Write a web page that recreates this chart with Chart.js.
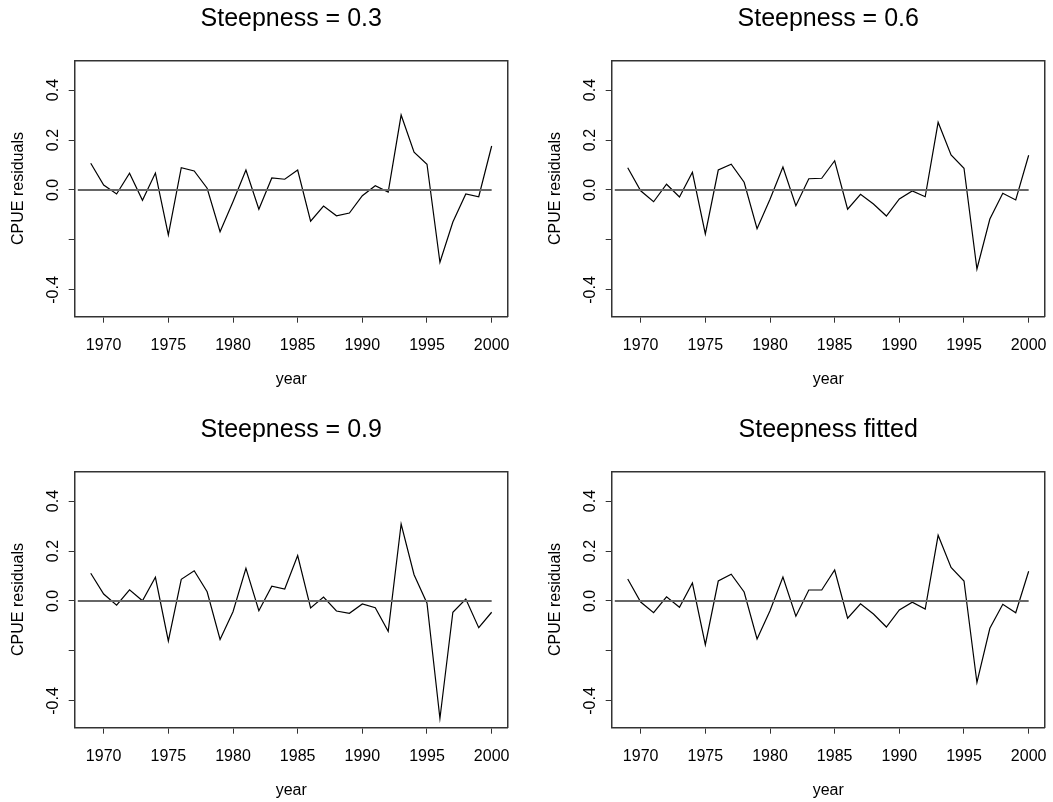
<!DOCTYPE html>
<html>
<head>
<meta charset="utf-8">
<title>CPUE residuals</title>
<script src="https://cdn.jsdelivr.net/npm/chart.js@4.4.1/dist/chart.umd.min.js"></script>
<style>
    html, body { margin: 0; padding: 0; background: #fff; overflow: hidden; }
    canvas { position: absolute; }
</style>
</head>
<body>
<canvas id="steep03" width="516" height="390" style="left:0px;top:0px"></canvas>
<canvas id="steep06" width="516" height="390" style="left:537px;top:0px"></canvas>
<canvas id="steep09" width="516" height="390" style="left:0px;top:411.4px"></canvas>
<canvas id="steepFit" width="516" height="390" style="left:537px;top:411.4px"></canvas>
<script>
const years = [1969, 1970, 1971, 1972, 1973, 1974, 1975, 1976, 1977, 1978, 1979, 1980,
    1981, 1982, 1983, 1984, 1985, 1986, 1987, 1988, 1989, 1990, 1991, 1992,
    1993, 1994, 1995, 1996, 1997, 1998, 1999, 2000]

const resid03 = [0.107, 0.020, -0.016, 0.067, -0.041, 0.068, -0.180, 0.089, 0.076, 0.007, -0.167, -0.047,
    0.080, -0.077, 0.048, 0.043, 0.080, -0.125, -0.064, -0.103, -0.092, -0.023, 0.017, -0.008,
    0.300, 0.151, 0.103, -0.289, -0.128, -0.016, -0.027, 0.176]

const resid06 = [0.089, -0.003, -0.047, 0.023, -0.028, 0.071, -0.176, 0.080, 0.103, 0.031, -0.155, -0.037,
    0.092, -0.063, 0.045, 0.047, 0.117, -0.077, -0.017, -0.056, -0.104, -0.036, -0.004, -0.027,
    0.271, 0.140, 0.087, -0.316, -0.116, -0.013, -0.040, 0.139]

const resid09 = [0.111, 0.028, -0.017, 0.045, 0.001, 0.095, -0.160, 0.087, 0.121, 0.037, -0.154, -0.043,
    0.131, -0.039, 0.059, 0.048, 0.182, -0.028, 0.016, -0.040, -0.049, -0.012, -0.027, -0.121,
    0.308, 0.105, -0.009, -0.470, -0.045, 0.008, -0.107, -0.045]

const residFit = [0.088, -0.004, -0.047, 0.017, -0.025, 0.072, -0.175, 0.080, 0.107, 0.036, -0.152, -0.039,
    0.096, -0.061, 0.044, 0.044, 0.124, -0.069, -0.011, -0.052, -0.104, -0.036, -0.005, -0.032,
    0.263, 0.134, 0.080, -0.326, -0.109, -0.013, -0.047, 0.119]

const xTicks = [1970, 1975, 1980, 1985, 1990, 1995, 2000]
const yTicks = [-0.4, -0.2, 0, 0.2, 0.4]
const yTickLabels = ['-0.4', '', '0.0', '0.2', '0.4']
const zeroLineYears = [1968, 2000]

Chart.defaults.font.family = "'Liberation Sans', Arial, Helvetica, sans-serif"
Chart.defaults.color = '#000'

const boxColor = '#333'

// keep tick labels from pushing the plot box inward
function noEdgePadding(scale) {
    scale.paddingLeft = 0
    scale.paddingRight = 0
    scale.paddingTop = 0
    scale.paddingBottom = 0
}

function frameAxis(position) {
    return {
        type: 'linear',
        position: position,
        min: 0,
        max: 1,
        ticks: { display: false },
        grid: { display: false },
        border: { display: true, color: boxColor, width: 1.5 },
        afterFit: (scale) => {
            if (position == 'top') scale.height = 0
            else scale.width = 0
            noEdgePadding(scale)
        }
    }
}

function buildResidualChart(id, title, values) {

    let points = years.map((yr, i) => {
        return { x: yr, y: values[i] }
    })

    let zeroLine = zeroLineYears.map(yr => ({ x: yr, y: 0 }))

    const config = {
        type: 'line',
        data: {
            datasets: [
                {
                    data: zeroLine,
                    borderColor: '#666',
                    borderWidth: 2,
                    pointRadius: 0
                },
                {
                    data: points,
                    borderColor: '#000',
                    borderWidth: 1.2,
                    pointRadius: 0,
                    tension: 0
                }
            ]
        },
        options: {
            responsive: false,
            animation: false,
            events: [],
            layout: {
                padding: { left: 0, top: 0, right: 8.3, bottom: 0 }
            },
            plugins: {
                legend: { display: false },
                tooltip: { enabled: false },
                title: {
                    display: true,
                    text: title,
                    fullSize: false,
                    color: '#000',
                    font: { size: 25, weight: 'normal' },
                    padding: { top: 4, bottom: 26.3 }
                }
            },
            scales: {
                x: {
                    type: 'linear',
                    position: 'bottom',
                    min: 1967.76,
                    max: 2001.24,
                    bounds: 'data',
                    afterBuildTicks: (scale) => {
                        scale.ticks = xTicks.map(v => ({ value: v }))
                    },
                    afterFit: (scale) => {
                        scale.height = 73.3
                        noEdgePadding(scale)
                    },
                    ticks: {
                        autoSkip: false,
                        maxRotation: 0,
                        padding: 13.5,
                        font: { size: 16 },
                        callback: (v) => String(v)
                    },
                    grid: {
                        drawOnChartArea: false,
                        tickLength: 6,
                        tickColor: boxColor,
                        tickWidth: 1
                    },
                    border: { display: true, color: boxColor, width: 1.5 },
                    title: {
                        display: true,
                        text: 'year',
                        font: { size: 16 },
                        padding: { top: 0, bottom: 1.2 }
                    }
                },
                y: {
                    type: 'linear',
                    position: 'left',
                    min: -0.507,
                    max: 0.519,
                    bounds: 'data',
                    afterBuildTicks: (scale) => {
                        scale.ticks = yTicks.map(v => ({ value: v }))
                    },
                    afterFit: (scale) => {
                        scale.width = 74.7
                        noEdgePadding(scale)
                    },
                    ticks: {
                        autoSkip: false,
                        minRotation: 90,
                        maxRotation: 90,
                        crossAlign: 'center',
                        padding: 1.2,
                        font: { size: 16 },
                        callback: (v, i) => yTickLabels[i]
                    },
                    grid: {
                        drawOnChartArea: false,
                        tickLength: 6,
                        tickColor: boxColor,
                        tickWidth: 1
                    },
                    border: { display: true, color: boxColor, width: 1.5 },
                    title: {
                        display: true,
                        text: 'CPUE residuals',
                        font: { size: 16 },
                        padding: { top: 8.7, bottom: 0 }
                    }
                },
                xTop: frameAxis('top'),
                yRight: frameAxis('right')
            }
        }
    }

    return new Chart(document.getElementById(id), config)
}

buildResidualChart('steep03', 'Steepness = 0.3', resid03)
buildResidualChart('steep06', 'Steepness = 0.6', resid06)
buildResidualChart('steep09', 'Steepness = 0.9', resid09)
buildResidualChart('steepFit', 'Steepness fitted', residFit)
</script>
</body>
</html>
